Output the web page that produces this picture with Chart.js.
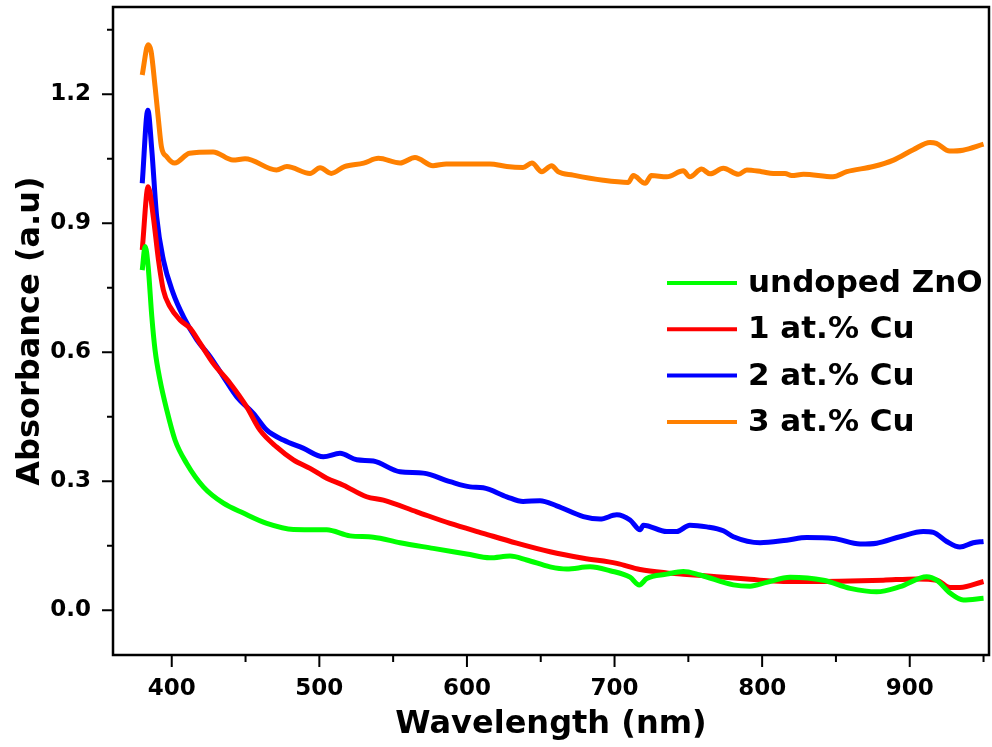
<!DOCTYPE html>
<html>
<head>
<meta charset="utf-8">
<script src="https://cdn.jsdelivr.net/npm/chart.js@4"></script>
<style>
  html, body { margin: 0; padding: 0; background: #fff; }
  #wrap { width: 992px; height: 747px; }
</style>
</head>
<body>
<div id="wrap"><canvas id="chart" width="992" height="747"></canvas></div>
<script>
// ---- data ----
const seriesLabels = ['undoped ZnO', '1 at.% Cu', '2 at.% Cu', '3 at.% Cu'];
const seriesColors = ['#00ff00', '#ff0000', '#0000ff', '#ff8000'];

const undopedX = [380, 382, 384, 386.5, 388.7, 392, 396.6, 402.2, 410, 421.4, 435, 448.5, 464.4, 482.4, 505, 520.8, 536.6, 554.7, 577.2, 599.9, 615.6, 629.2, 640.5, 656.3, 667.6, 683.4, 697, 710.5, 716.8, 721.8, 735.4, 746.6, 757.9, 780.5, 791.8, 803, 818.9, 841.5, 859.6, 877.6, 893.4, 911.5, 918.3, 927.3, 936.3, 950];
const undopedY = [0.791, 0.846, 0.8, 0.683, 0.605, 0.536, 0.466, 0.396, 0.342, 0.287, 0.249, 0.226, 0.202, 0.188, 0.187, 0.173, 0.17, 0.157, 0.144, 0.131, 0.122, 0.126, 0.117, 0.101, 0.096, 0.101, 0.092, 0.077, 0.059, 0.074, 0.084, 0.09, 0.082, 0.059, 0.056, 0.065, 0.077, 0.07, 0.051, 0.043, 0.055, 0.078, 0.07, 0.04, 0.024, 0.028];

const cu1X = [380, 384, 387.5, 391, 394.3, 398.8, 405.6, 412.4, 419.2, 428.2, 439.5, 450.8, 459.8, 471, 482.4, 493.7, 505, 516.3, 532, 543.4, 566, 588.6, 611, 633.7, 656.3, 678.9, 701.5, 717.3, 735.4, 746.6, 769.2, 791.8, 814.4, 837, 859.6, 882.1, 904.7, 918.3, 927.3, 934, 950];
const cu1Y = [0.838, 0.985, 0.915, 0.815, 0.745, 0.706, 0.675, 0.656, 0.621, 0.574, 0.528, 0.473, 0.419, 0.38, 0.35, 0.33, 0.307, 0.291, 0.264, 0.256, 0.229, 0.202, 0.179, 0.156, 0.136, 0.121, 0.109, 0.095, 0.087, 0.084, 0.078, 0.072, 0.067, 0.067, 0.068, 0.07, 0.073, 0.07, 0.053, 0.053, 0.067];

const cu2X = [380, 383.8, 386.5, 389.8, 394.3, 401, 407.9, 417, 426, 435, 444, 455.3, 464.4, 475.6, 489, 502.7, 514, 525.3, 536.6, 554.7, 570.5, 588.6, 602.2, 611, 627, 638, 649.5, 660.8, 678.9, 690.2, 701.5, 710.5, 717.3, 719.5, 735.4, 742, 751, 762.5, 773.7, 780.5, 798.6, 816.7, 830.2, 848.3, 866.4, 877.6, 893.4, 909.2, 916, 925, 934, 943, 950];
const cu2Y = [0.993, 1.163, 1.07, 0.915, 0.815, 0.737, 0.683, 0.629, 0.59, 0.543, 0.497, 0.458, 0.419, 0.396, 0.377, 0.357, 0.365, 0.35, 0.347, 0.322, 0.319, 0.299, 0.287, 0.285, 0.264, 0.253, 0.255, 0.243, 0.218, 0.212, 0.222, 0.21, 0.187, 0.198, 0.183, 0.183, 0.198, 0.194, 0.185, 0.171, 0.157, 0.163, 0.169, 0.167, 0.154, 0.156, 0.171, 0.183, 0.181, 0.16, 0.147, 0.157, 0.16];

const cu3X = [380, 384, 386, 388.7, 391, 393, 396.6, 402, 412, 428, 441.5, 449.7, 471, 478, 493.7, 500.5, 508, 517, 530, 540, 554.7, 564.8, 577, 586, 615.6, 627, 638, 644, 650.7, 657.4, 661.7, 672, 692.4, 709.3, 712.7, 720.7, 725, 735.4, 746.6, 751, 759, 764.7, 773.7, 784, 789.6, 799.7, 807.6, 815.5, 820, 828, 848, 857.3, 875.3, 889, 902.4, 913.7, 918, 927, 936, 950];
const cu3Y = [1.245, 1.315, 1.3, 1.218, 1.14, 1.078, 1.055, 1.04, 1.063, 1.066, 1.047, 1.05, 1.024, 1.032, 1.016, 1.029, 1.016, 1.032, 1.04, 1.051, 1.04, 1.053, 1.034, 1.038, 1.038, 1.032, 1.03, 1.04, 1.02, 1.034, 1.02, 1.012, 1.0, 0.995, 1.011, 0.993, 1.011, 1.008, 1.022, 1.008, 1.026, 1.015, 1.028, 1.014, 1.024, 1.02, 1.016, 1.016, 1.011, 1.014, 1.008, 1.02, 1.032, 1.047, 1.071, 1.088, 1.086, 1.068, 1.07, 1.084];

const xMajor = [400, 500, 600, 700, 800, 900];
const xMinor = [450, 550, 650, 750, 850, 950];
const yMajor = [0, 0.3, 0.6, 0.9, 1.2];
const yMinor = [0.15, 0.45, 0.75, 1.05, 1.35];

const FONT = '"DejaVu Sans", Verdana, sans-serif';
const toPts = (xs, ys) => xs.map((x, i) => ({ x, y: ys[i] }));
const allX = [undopedX, cu1X, cu2X, cu3X];
const allY = [undopedY, cu1Y, cu2Y, cu3Y];

// frame + outward ticks, Origin style
const framePlugin = {
  id: 'frame',
  afterDraw(chart) {
    const { ctx, chartArea: a, scales: { x, y } } = chart;
    ctx.save();
    ctx.strokeStyle = '#000';
    ctx.lineWidth = 2.5;
    ctx.strokeRect(a.left, a.top, a.right - a.left, a.bottom - a.top);
    ctx.lineWidth = 2;
    ctx.beginPath();
    xMajor.forEach(v => { const px = x.getPixelForValue(v); ctx.moveTo(px, a.bottom); ctx.lineTo(px, a.bottom + 12); });
    xMinor.forEach(v => { const px = x.getPixelForValue(v); ctx.moveTo(px, a.bottom); ctx.lineTo(px, a.bottom + 7); });
    yMajor.forEach(v => { const py = y.getPixelForValue(v); ctx.moveTo(a.left, py); ctx.lineTo(a.left - 11, py); });
    yMinor.forEach(v => { const py = y.getPixelForValue(v); ctx.moveTo(a.left, py); ctx.lineTo(a.left - 6, py); });
    ctx.stroke();
    ctx.restore();
  }
};

// legend inside the plot
const legendPlugin = {
  id: 'innerLegend',
  afterDraw(chart) {
    const { ctx } = chart;
    ctx.save();
    ctx.font = 'bold 31px ' + FONT;
    ctx.textBaseline = 'middle';
    ctx.fillStyle = '#000';
    chart.data.datasets.forEach((ds, i) => {
      const cy = 283 + i * 46.3;
      ctx.strokeStyle = ds.borderColor;
      ctx.lineWidth = 4;
      ctx.beginPath();
      ctx.moveTo(667, cy);
      ctx.lineTo(737, cy);
      ctx.stroke();
      ctx.fillText(ds.label, 748, cy + 1);
    });
    ctx.restore();
  }
};

new Chart(document.getElementById('chart'), {
  type: 'line',
  data: {
    datasets: seriesLabels.map((label, i) => ({
      label,
      data: toPts(allX[i], allY[i]),
      borderColor: seriesColors[i],
      borderWidth: 5,
      pointRadius: 0,
      cubicInterpolationMode: 'monotone',
      fill: false
    }))
  },
  options: {
    responsive: false,
    animation: false,
    layout: { padding: { top: 7, right: 3, left: 0, bottom: 0 } },
    plugins: { legend: { display: false }, tooltip: { enabled: false } },
    scales: {
      x: {
        type: 'linear',
        min: 360.2,
        max: 953.7,
        afterBuildTicks: s => { s.ticks = xMajor.map(v => ({ value: v })); },
        afterFit: s => { s.height = 92; s.paddingLeft = 0; s.paddingRight = 0; },
        grid: { display: false, drawTicks: false },
        border: { display: false },
        ticks: {
          color: '#000',
          font: { family: FONT, size: 23, weight: 'bold' },
          padding: 20,
          maxRotation: 0,
          callback: v => String(v)
        },
        title: {
          display: true,
          text: 'Wavelength (nm)',
          color: '#000',
          font: { family: FONT, size: 32, weight: 'bold' },
          padding: { bottom: 3 }
        }
      },
      y: {
        min: -0.104,
        max: 1.403,
        afterBuildTicks: s => { s.ticks = yMajor.map(v => ({ value: v })); },
        afterFit: s => { s.width = 113; s.paddingTop = 0; s.paddingBottom = 0; },
        grid: { display: false, drawTicks: false },
        border: { display: false },
        ticks: {
          color: '#000',
          font: { family: FONT, size: 23, weight: 'bold' },
          padding: 22,
          callback: v => v.toFixed(1)
        },
        title: {
          display: true,
          text: 'Absorbance (a.u)',
          color: '#000',
          font: { family: FONT, size: 32, weight: 'bold' },
          padding: { top: 11 }
        }
      }
    }
  },
  plugins: [framePlugin, legendPlugin]
});
</script>
</body>
</html>
